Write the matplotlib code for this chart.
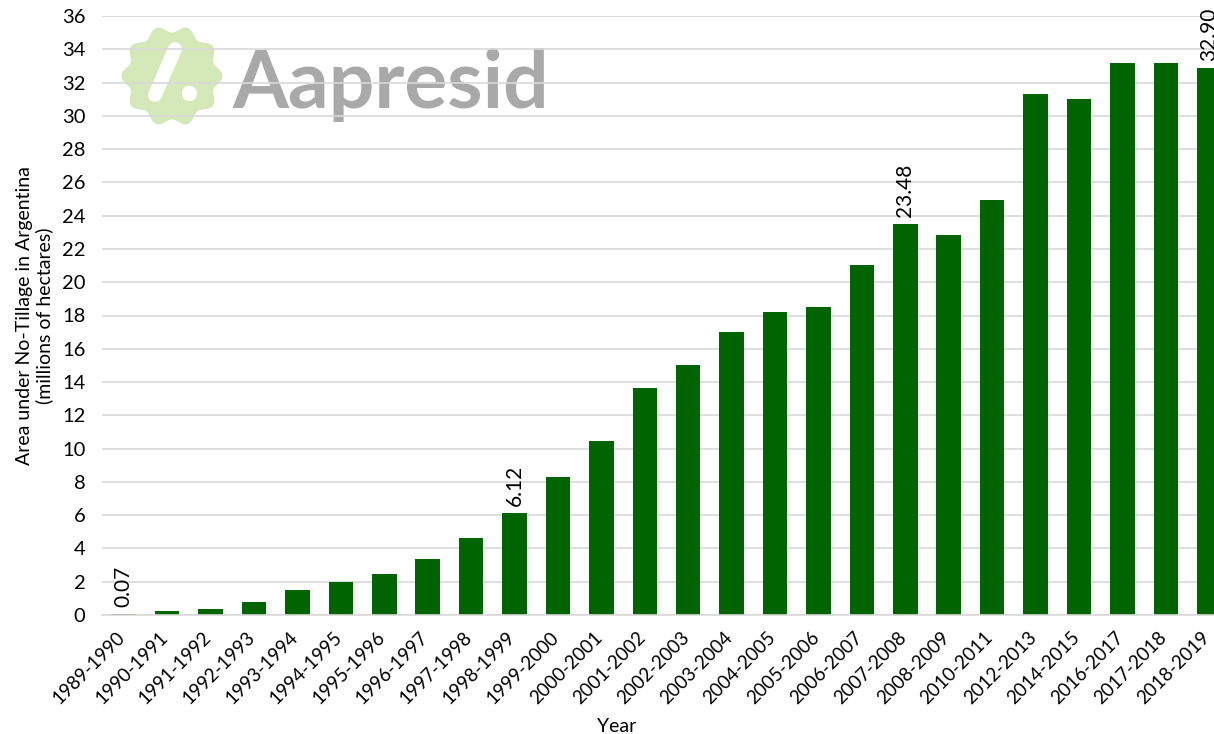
import numpy as np
import matplotlib
matplotlib.use("Agg")
import matplotlib.pyplot as plt

plt.rcParams["font.family"] = ["Lato", "DejaVu Sans"]

years = ["1989-1990", "1990-1991", "1991-1992", "1992-1993", "1993-1994",
         "1994-1995", "1995-1996", "1996-1997", "1997-1998", "1998-1999",
         "1999-2000", "2000-2001", "2001-2002", "2002-2003", "2003-2004",
         "2004-2005", "2005-2006", "2006-2007", "2007-2008", "2008-2009",
         "2010-2011", "2012-2013", "2014-2015", "2016-2017", "2017-2018",
         "2018-2019"]
area = [0.07, 0.25, 0.36, 0.78, 1.5, 2.0, 2.46, 3.36, 4.63, 6.12,
        8.29, 10.46, 13.64, 15.02, 17.0, 18.2, 18.5, 21.03, 23.48, 22.84,
        24.94, 31.31, 31.0, 33.17, 33.17, 32.90]
labelled = ["1989-1990", "1998-1999", "2007-2008", "2018-2019"]

BAR = "#006400"
GRID = "#d9d9d9"
W, H = 1214, 734

fig = plt.figure(figsize=(W / 100, H / 100), dpi=100)

# watermark layer in pixel coordinates, behind the chart
bg = fig.add_axes([0, 0, 1, 1], zorder=0)
bg.set_xlim(0, W)
bg.set_ylim(H, 0)
bg.axis("off")
t = np.linspace(0, 2 * np.pi, 400)
r = 47 + 3.5 * np.cos(10 * t)
bg.fill(172 + r * np.cos(t), 76 + r * np.sin(t), color="#d5e8b8", lw=0)
bg.plot([155, 175], [95, 49], color="white", lw=10, solid_capstyle="round")
bg.plot([189], [93], "o", color="white", ms=10)
bg.text(232, 108, "Aapresid", fontsize=58, fontweight="bold", color="#a9a9a9",
        family=["Lato", "DejaVu Sans"], va="baseline", ha="left")

ax = fig.add_axes([102 / W, 1 - 615 / H, (1231 - 102) / W, (615 - 16) / H], zorder=1)
ax.patch.set_alpha(0)
x = np.arange(len(years))
ax.bar(x, area, width=0.565, color=BAR, zorder=2)

for xi, (yr, v) in enumerate(zip(years, area)):
    if yr in labelled:
        ax.annotate(f"{v:.2f}", xy=(xi, v), xytext=(0, 5), textcoords="offset points",
                    rotation=90, ha="center", va="bottom", fontsize=15, color="black",
                    annotation_clip=False)

ax.set_xlim(-0.5, len(years) - 0.5)
ax.set_ylim(0, 36)
ax.set_yticks(np.arange(0, 37, 2))
ax.set_xticks(x)
ax.set_xticklabels([])
# slanted category labels, nudged a little left so the last one stays in the picture
for xi, yr in enumerate(years):
    ax.annotate(yr, xy=(xi, 0), xycoords=("data", "axes fraction"),
                xytext=(-1.5, -14), textcoords="offset points", rotation=45,
                rotation_mode="anchor", ha="right", va="center", fontsize=13.5,
                annotation_clip=False)
ax.tick_params(axis="y", labelsize=14.5, length=0, pad=12)
ax.tick_params(axis="x", length=0)
ax.yaxis.grid(True, color=GRID, lw=1.2, zorder=0)
ax.set_axisbelow(True)
for s in ["top", "right", "left"]:
    ax.spines[s].set_visible(False)
ax.spines["bottom"].set_color(GRID)
ax.spines["bottom"].set_linewidth(1.2)

ax.set_ylabel("Area under No-Tillage in Argentina\n(millions of hectares)", fontsize=14,
              labelpad=6)
fig.text(617 / W, 1 - 727 / H, "Year", ha="center", va="center", fontsize=14)

fig.savefig("out.png", dpi=100)
